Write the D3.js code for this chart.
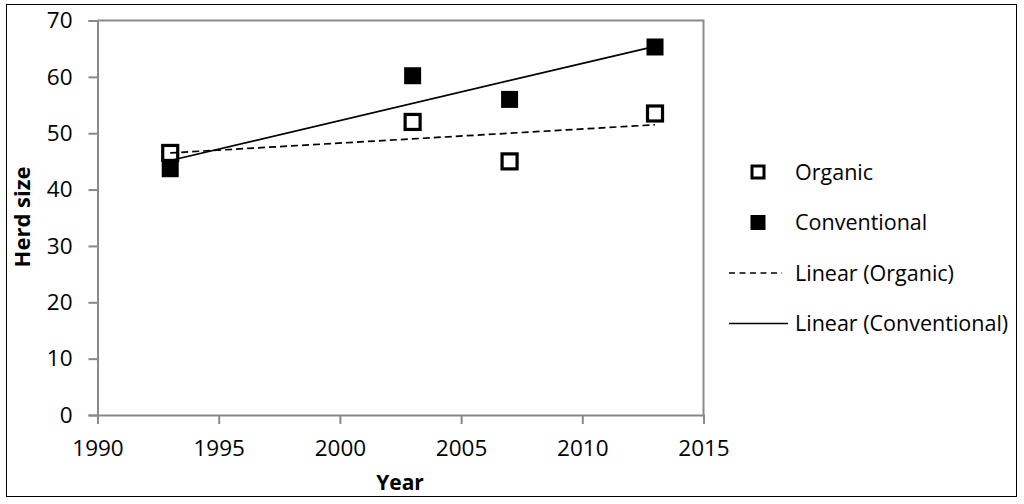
<!DOCTYPE html>
<html><head><meta charset="utf-8">
<script src="https://cdn.jsdelivr.net/npm/d3@7/dist/d3.min.js"></script>
<style>
html,body{margin:0;padding:0;background:#fff;}
svg{display:block;}
text{font-family:"Open Sans",sans-serif;fill:#000;}
</style></head>
<body>
<script>
const years = [1993, 2003, 2007, 2013];
const organic = [46.5, 52, 45, 53.5];
const conventional = [43.7, 60.2, 56, 65.3];
const xTicks = [1990, 1995, 2000, 2005, 2010, 2015];
const yTicks = [0, 10, 20, 30, 40, 50, 60, 70];
const legendLabels = ["Organic", "Conventional", "Linear (Organic)", "Linear (Conventional)"];

const W = 1024, H = 504;
const svg = d3.select("body").append("svg").attr("width", W).attr("height", H);

svg.append("rect").attr("x", 6.5).attr("y", 4.5).attr("width", 1010).attr("height", 492)
  .attr("fill", "#fff").attr("stroke", "#000").attr("stroke-width", 1);

const x = d3.scaleLinear().domain([1990, 2015]).range([97.5, 703.5]);
const y = d3.scaleLinear().domain([0, 70]).range([415, 20.5]);

const grey = "#898989";
svg.append("path").attr("d", `M${x(1990)},${y(70)}H${x(2015)}V${y(0)}`)
  .attr("fill", "none").attr("stroke", grey).attr("stroke-width", 2);

const yAxis = svg.append("g").attr("transform", `translate(${x(1990)},0)`)
  .call(d3.axisLeft(y).tickValues(yTicks).tickSize(9).tickPadding(16).tickFormat(d3.format("d")));
const xAxis = svg.append("g").attr("transform", `translate(0,${y(0)})`)
  .call(d3.axisBottom(x).tickValues(xTicks).tickSize(9).tickPadding(12).tickFormat(d3.format("d")));
[yAxis, xAxis].forEach(a => {
  a.select(".domain").attr("stroke", grey).attr("stroke-width", 2);
  a.selectAll(".tick line").attr("stroke", grey).attr("stroke-width", 2);
  a.selectAll(".tick text").attr("font-size", 22.5).attr("font-family", "Open Sans, sans-serif").attr("fill", "#000");
});
xAxis.selectAll(".tick text").attr("dy", "0.9em");

function fit(xs, ys) {
  const mx = d3.mean(xs), my = d3.mean(ys);
  let sxy = 0, sxx = 0;
  xs.forEach((v, i) => { sxy += (v - mx) * (ys[i] - my); sxx += (v - mx) * (v - mx); });
  const b = sxy / sxx, a = my - b * mx;
  return t => a + b * t;
}
const x0 = d3.min(years), x1 = d3.max(years);
const fo = fit(years, organic), fc = fit(years, conventional);
const line = d3.line().x(d => x(d[0])).y(d => y(d[1]));

const ms = 17;
svg.append("g").selectAll("rect").data(years.map((t, i) => [t, conventional[i]])).join("rect")
  .attr("x", d => x(d[0]) - ms / 2).attr("y", d => y(d[1]) - ms / 2)
  .attr("width", ms).attr("height", ms).attr("fill", "#000");
svg.append("g").selectAll("rect").data(years.map((t, i) => [t, organic[i]])).join("rect")
  .attr("x", d => x(d[0]) - 7.5).attr("y", d => y(d[1]) - 7.5)
  .attr("width", 15).attr("height", 15).attr("fill", "#fff").attr("stroke", "#000").attr("stroke-width", 3.2);

svg.append("path").datum([[x0, fo(x0)], [x1, fo(x1)]]).attr("d", line)
  .attr("fill", "none").attr("stroke", "#000").attr("stroke-width", 1.7).attr("stroke-dasharray", "7,4");
svg.append("path").datum([[x0, fc(x0)], [x1, fc(x1)]]).attr("d", line)
  .attr("fill", "none").attr("stroke", "#000").attr("stroke-width", 1.7);

svg.append("text").attr("transform", "translate(30,217) rotate(-90)").attr("text-anchor", "middle")
  .attr("font-size", 22).attr("font-weight", "bold").text("Herd size");
svg.append("text").attr("x", 400).attr("y", 490).attr("text-anchor", "middle")
  .attr("font-size", 21).attr("font-weight", "bold").text("Year");

const lg = svg.append("g");
const ly = [172, 222.5, 273, 323.5];
lg.append("rect").attr("x", 758 - 6).attr("y", ly[0] - 6).attr("width", 12).attr("height", 12)
  .attr("fill", "#fff").attr("stroke", "#000").attr("stroke-width", 3);
lg.append("rect").attr("x", 758 - 7.5).attr("y", ly[1] - 7.5).attr("width", 15).attr("height", 15).attr("fill", "#000");
lg.append("line").attr("x1", 729).attr("x2", 782).attr("y1", ly[2]).attr("y2", ly[2])
  .attr("stroke", "#000").attr("stroke-width", 1.7).attr("stroke-dasharray", "6,4.5");
lg.append("line").attr("x1", 729).attr("x2", 788).attr("y1", ly[3]).attr("y2", ly[3])
  .attr("stroke", "#000").attr("stroke-width", 1.7);
lg.selectAll("text").data(legendLabels).join("text")
  .attr("x", 795).attr("y", (d, i) => ly[i]).attr("dy", "0.35em")
  .attr("font-size", 21.5).text(d => d);
</script>
</body></html>
